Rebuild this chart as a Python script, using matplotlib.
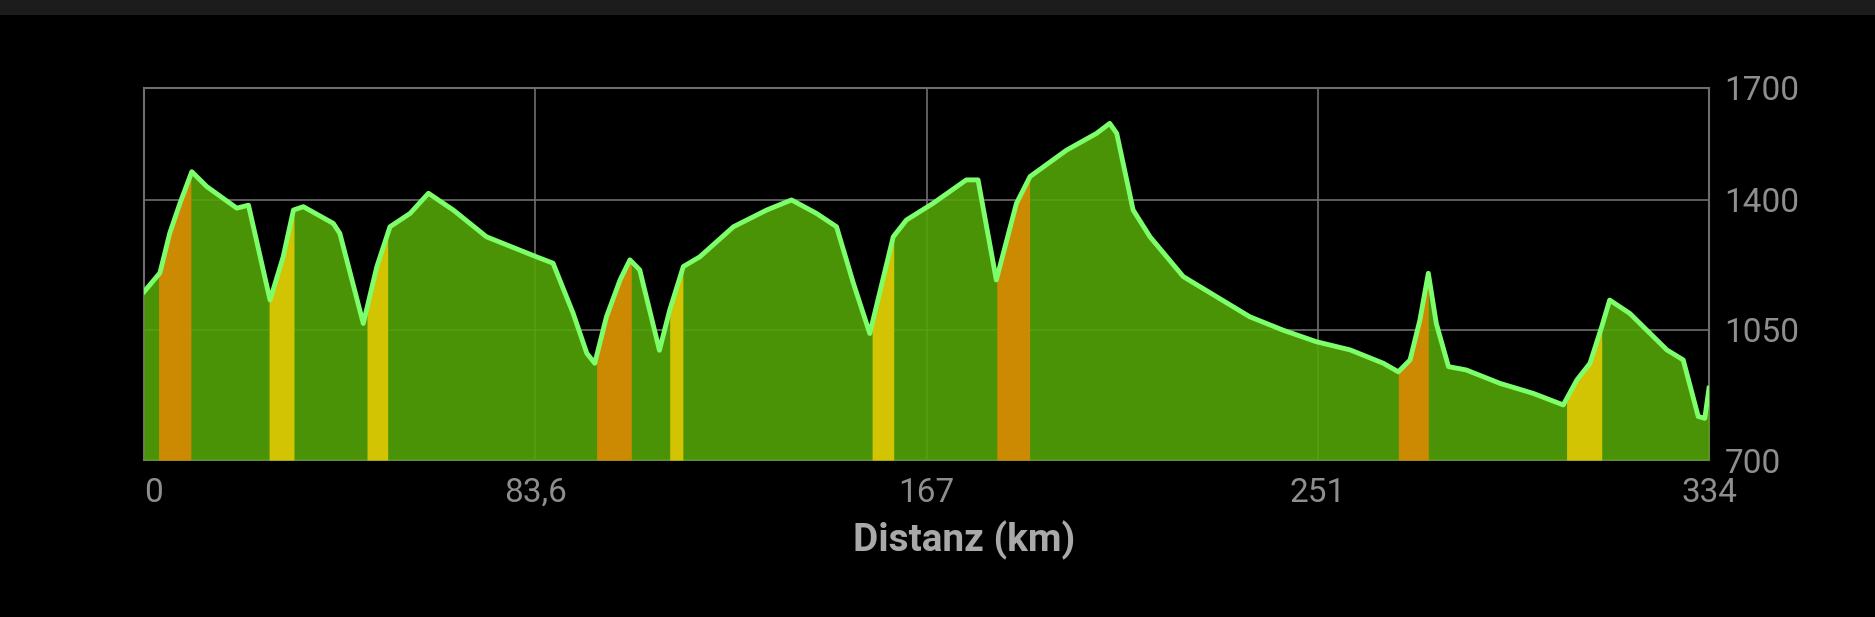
import matplotlib
matplotlib.use("Agg")
import matplotlib.pyplot as plt
from matplotlib.patches import Rectangle
import numpy as np

# ---- data ----
dist_km = [0, 1.6, 3.4, 5.5, 7.7, 10.2, 13.4, 19.8, 22.3, 26.9, 29.7, 31.9, 34.0, 40.4, 41.8,
           46.8, 49.7, 52.5, 56.8, 60.7, 66.0, 73.1, 83.8, 87.3, 91.6, 94.5, 96.2, 98.7, 101.6,
           103.7, 105.8, 110.0, 112.2, 115.1, 118.6, 125.8, 132.9, 138.2, 143.5, 147.8, 151.4,
           154.9, 159.9, 162.7, 168.4, 175.5, 178.0, 181.9, 186.2, 189.1, 196.9, 203.3, 206.1,
           207.6, 211.1, 214.7, 221.8, 228.9, 236.0, 243.1, 250.2, 257.4, 264.5, 267.7, 270.2,
           272.3, 274.1, 275.8, 278.4, 282.2, 289.4, 296.5, 302.9, 305.8, 308.6, 311.1, 312.8,
           317.1, 320.0, 325.0, 328.5, 331.7, 333.1, 334.0]
elev_m = [1152, 1176, 1203, 1310, 1391, 1475, 1435, 1377, 1385, 1130, 1246, 1372, 1381, 1336, 1309,
          1067, 1220, 1327, 1363, 1417, 1372, 1300, 1246, 1229, 1094, 987, 960, 1085, 1184,
          1238, 1211, 995, 1103, 1220, 1246, 1327, 1372, 1399, 1363, 1327, 1175,
          1040, 1300, 1345, 1390, 1453, 1453, 1184, 1390, 1462, 1533, 1578, 1605,
          1578, 1372, 1300, 1193, 1139, 1085, 1049, 1018, 996, 960, 937, 969,
          1076, 1202, 1067, 951, 942, 906, 879, 848, 915, 960, 1058, 1130,
          1094, 1058, 996, 969, 817, 812, 893]

# climb segments (start km, end km, category)
seg_start = [3.05, 26.7, 47.6, 96.6, 112.2, 155.4, 182.0, 267.7, 303.6]
seg_end = [10.0, 32.0, 52.0, 104.1, 115.0, 160.0, 189.1, 274.1, 311.2]
seg_kind = ["steep", "mid", "mid", "steep", "mid", "mid", "steep", "steep", "mid"]

xtick_vals = [0, 83.5, 167, 250.5, 334]
xtick_labels = ["0", "83,6", "167", "251", "334"]
ytick_vals = [700, 1050, 1400, 1700]
ytick_labels = ["700", "1050", "1400", "1700"]

# ---- style ----
BG = "#000000"
FILL = "#54a407"
LINE = "#7cff6a"
SEG_COL = {"steep": "#e39904", "mid": "#e9da04"}
FILL_ALPHA = 0.9
GRID = "#6e6e6e"
TICK = "#8e8e8e"
LABEL = "#a9a9a9"

plt.rcParams['font.family'] = ['Roboto', 'DejaVu Sans']

W, H, DPI = 1875, 617, 100
fig = plt.figure(figsize=(W / DPI, H / DPI), dpi=DPI, facecolor=BG)
fig.add_artist(Rectangle((0, 1 - 15 / H), 1, 15 / H, transform=fig.transFigure,
                         facecolor="#1c1c1c", edgecolor="none"))

ax = fig.add_axes([144 / W, 1 - 460 / H, (1709 - 144) / W, (460 - 88) / H])
ax.set_facecolor(BG)

x = np.array(dist_km)
y = np.array(elev_m)
xf = np.linspace(0, 334, 3341)
yf = np.interp(xf, x, y)

ax.fill_between(xf, 700, yf, color=FILL, alpha=FILL_ALPHA, lw=0, zorder=2)
for s, e, k in zip(seg_start, seg_end, seg_kind):
    m = (xf >= s) & (xf <= e)
    ax.fill_between(xf[m], 700, yf[m], color=SEG_COL[k], alpha=1.0, lw=0, zorder=3)
    ax.fill_between(xf[m], 700, yf[m], color="black", alpha=1 - FILL_ALPHA, lw=0, zorder=3)
ax.plot(x, y, color=LINE, lw=3.5, zorder=4, solid_joinstyle="round")

ax.set_xlim(0, 334)
ax.set_ylim(700, 1700)
ax.set_xticks(xtick_vals)
ax.set_yticks(ytick_vals)
ax.grid(True, color=GRID, lw=1.2, zorder=1)
ax.set_axisbelow(True)
for sp in ax.spines.values():
    sp.set_color(GRID)
    sp.set_linewidth(1.5)
    sp.set_zorder(1)

ax.tick_params(axis="both", length=0, colors=TICK, labelsize=24)
ax.yaxis.tick_right()
ax.set_yticklabels(ytick_labels)
ax.tick_params(axis="y", pad=11)
ax.set_xticklabels(xtick_labels)
ax.tick_params(axis="x", pad=12)
ax.get_xticklabels()[0].set_horizontalalignment("left")

fig.text(964 / W, 1 - 540 / H, "Distanz (km)", color=LABEL, fontsize=28,
         fontweight="bold", ha="center", va="center")

fig.savefig("out.png", dpi=DPI, facecolor=BG)
